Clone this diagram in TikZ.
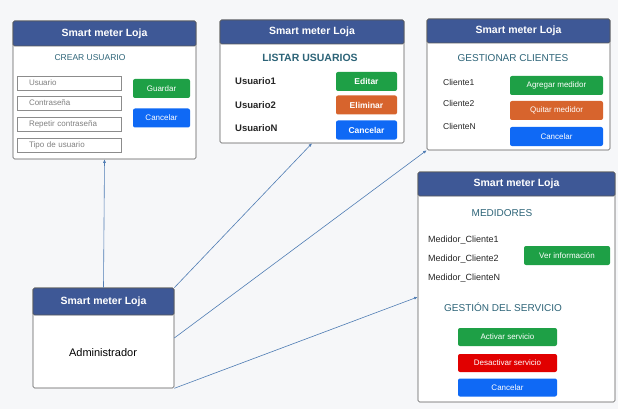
\documentclass[tikz,border=0pt]{standalone}
\usepackage{fontspec}
\setmainfont{Liberation Sans}
\usetikzlibrary{arrows.meta}

\definecolor{fondo}{RGB}{246,247,249}
\definecolor{cabecera}{RGB}{62,88,150}
\definecolor{titulo}{RGB}{45,100,120}
\definecolor{verde}{RGB}{30,160,70}
\definecolor{naranja}{RGB}{215,100,45}
\definecolor{azul}{RGB}{15,105,245}
\definecolor{rojo}{RGB}{225,0,0}
\definecolor{enlace}{RGB}{80,125,180}

\begin{document}
\begin{tikzpicture}[x=1pt,y=-1pt,>={Latex[length=3.5pt,width=3pt]}]
    \tikzstyle{panel}=[draw=black!65,fill=white,line width=0.6pt,rounded corners=1.5pt,inner sep=0pt]
    \tikzstyle{barra}=[panel,fill=cabecera,text=white,font=\fontsize{10.5}{11}\selectfont\bfseries]
    \tikzstyle{boton}=[rounded corners=2pt,inner sep=0pt,text=white,font=\fontsize{8}{9}\selectfont,minimum height=19pt]
    \tikzstyle{campo}=[draw=black!45,line width=0.9pt,fill=white,inner xsep=12pt,inner ysep=0pt,text width=80pt,minimum height=14pt,align=left,text=black!50,font=\fontsize{8}{9}\selectfont]
    \tikzstyle{seccion}=[text=titulo,font=\fontsize{10}{11}\selectfont]
    \tikzstyle{item}=[anchor=west,inner sep=0pt,text=black!85,font=\fontsize{8.5}{9}\selectfont]
    \tikzstyle{conector}=[->,draw=enlace,line width=0.6pt]

    % fondo
    \fill[fondo] (0,0) rectangle (618,409);

    % Ventana: crear usuario
    \node[panel,minimum width=183pt,minimum height=138pt] (crear) at (104.5,90) {};
    \node[barra,minimum width=183pt,minimum height=25pt] (crear-cab) at (104.5,33.5) {Smart meter Loja};
    \node[seccion,font=\fontsize{8.5}{9}\selectfont] (crear-tit) at (90,58) {CREAR USUARIO};
    \foreach \name / \y / \txt in {1/83/Usuario,2/103/Contraseña,3/124/Repetir contraseña,4/145/Tipo de usuario}
        \node[campo] (campo-\name) at (69,\y) {\txt};
    \node[boton,fill=verde,minimum width=57pt] (guardar) at (161.5,88.5) {Guardar};
    \node[boton,fill=azul,minimum width=57pt] (crear-cancel) at (161.5,118) {Cancelar};

    % Ventana: listar usuarios
    \node[panel,minimum width=184pt,minimum height=123pt] (listar) at (312,81.5) {};
    \node[barra,minimum width=184pt,minimum height=24pt] (listar-cab) at (312,32) {Smart meter Loja};
    \node[seccion,font=\fontsize{10.5}{11}\selectfont\bfseries] (listar-tit) at (310,58) {LISTAR USUARIOS};
    \foreach \name / \y / \txt in {1/81/Usuario1,2/105/Usuario2,3/128/UsuarioN}
        \node[item,font=\fontsize{9.5}{10}\selectfont\bfseries] (usuario-\name) at (235,\y) {\txt};
    \node[boton,fill=verde,minimum width=61pt,font=\fontsize{8.5}{9}\selectfont\bfseries] (editar) at (366.5,81.5) {Editar};
    \node[boton,fill=naranja,minimum width=61pt,font=\fontsize{8.5}{9}\selectfont\bfseries] (eliminar) at (366.5,105) {Eliminar};
    \node[boton,fill=azul,minimum width=61pt,font=\fontsize{8.5}{9}\selectfont\bfseries] (listar-cancel) at (366.5,130) {Cancelar};

    % Ventana: gestionar clientes
    \node[panel,minimum width=183pt,minimum height=131pt] (gestionar) at (518.5,84.5) {};
    \node[barra,minimum width=183pt,minimum height=24pt] (gestionar-cab) at (518.5,31) {Smart meter Loja};
    \node[seccion] (gestionar-tit) at (513,58) {GESTIONAR CLIENTES};
    \foreach \name / \y / \txt in {1/82/Cliente1,2/103/Cliente2,3/126/ClienteN}
        \node[item] (cliente-\name) at (443,\y) {\txt};
    \node[boton,fill=verde,minimum width=93pt] (agregar) at (556.5,85.5) {Agregar medidor};
    \node[boton,fill=naranja,minimum width=93pt] (quitar) at (556.5,110.5) {Quitar medidor};
    \node[boton,fill=azul,minimum width=93pt] (gestionar-cancel) at (556.5,136.5) {Cancelar};

    % Ventana: medidores y servicio
    \node[panel,minimum width=197pt,minimum height=230pt] (medidores) at (516.5,287) {};
    \node[barra,minimum width=197pt,minimum height=24pt] (medidores-cab) at (516.5,184) {Smart meter Loja};
    \node[seccion] (medidores-tit) at (502,213) {MEDIDORES};
    \foreach \name / \y in {1/240,2/259,3/278}
        \node[item,font=\fontsize{9}{10}\selectfont] (medidor-\name) at (428,\y) {Medidor\_Cliente\ifnum\name=3 N\else\name\fi};
    \node[boton,fill=verde,minimum width=86pt] (ver) at (567,255.5) {Ver información};
    \node[seccion] (servicio-tit) at (503,307) {GESTIÓN DEL SERVICIO};
    \node[boton,fill=verde,minimum width=99pt,minimum height=18pt] (activar) at (507.5,337) {Activar servicio};
    \node[boton,fill=rojo,minimum width=99pt,minimum height=18pt] (desactivar) at (507.5,363) {Desactivar servicio};
    \node[boton,fill=azul,minimum width=99pt,minimum height=18pt] (servicio-cancel) at (507.5,387.5) {Cancelar};

    % Ventana principal del administrador
    \node[panel,minimum width=141pt,minimum height=100pt] (admin) at (103.5,338) {};
    \node[barra,minimum width=141pt,minimum height=27pt] (admin-cab) at (103.5,301.5) {Smart meter Loja};
    \node[font=\fontsize{11}{12}\selectfont] (admin-txt) at (103,353) {Administrador};

    % enlaces desde el administrador
    \draw[conector] (admin.north) -- (crear.south);
    \draw[conector] (admin.north east) -- (listar.south);
    \draw[conector] (admin.east) -- (gestionar.south west);
    \draw[conector] (admin.south east) -- ([yshift=-10pt]medidores.west);
\end{tikzpicture}
\end{document}
